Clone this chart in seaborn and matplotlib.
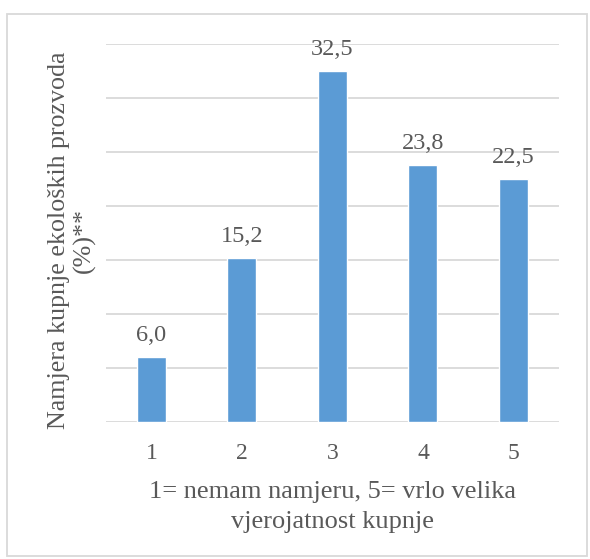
import matplotlib
matplotlib.use("Agg")
import matplotlib.pyplot as plt
import pandas as pd
import seaborn as sns
from matplotlib.patches import Rectangle

categories = ["1", "2", "3", "4", "5"]
values = [6.0, 15.2, 32.5, 23.8, 22.5]
value_labels = ["6,0", "15,2", "32,5", "23,8", "22,5"]
x_title = "1= nemam namjeru, 5= vrlo velika\nvjerojatnost kupnje"
y_title = "Namjera kupnje ekoloških prozvoda\n(%)**"

BAR_COLOR = "#5B9BD5"
TEXT_COLOR = "#595959"
GRID_COLOR = "#D9D9D9"

sns.set_theme(style="white")
plt.rcParams["font.family"] = ["Liberation Serif", "DejaVu Serif"]

df = pd.DataFrame({"cat": categories, "val": values})

fig = plt.figure(figsize=(5.9, 5.59), dpi=100)
ax = fig.add_axes([0.18, 0.245, 0.767, 0.676])

sns.barplot(data=df, x="cat", y="val", color=BAR_COLOR, width=0.32,
            saturation=1, ax=ax, zorder=3)

ax.set_ylim(0, 35)
ax.set_xlim(-0.5, 4.5)
ax.set_yticks(range(0, 36, 5))
ax.set_yticklabels([])
ax.yaxis.grid(True, color=GRID_COLOR, linewidth=1.3, zorder=0)
ax.tick_params(axis="y", length=0)
ax.tick_params(axis="x", length=0, labelsize=17, labelcolor=TEXT_COLOR, pad=15)
for s in ax.spines.values():
    s.set_visible(False)

for i, (v, lab) in enumerate(zip(values, value_labels)):
    ax.annotate(lab, (i, v), xytext=(0, 8), textcoords="offset points",
                ha="center", va="bottom", fontsize=17.5, color=TEXT_COLOR)

ax.set_xlabel(x_title, fontsize=19, color=TEXT_COLOR, linespacing=1.45)
ax.set_ylabel(y_title, fontsize=18.7, color=TEXT_COLOR, linespacing=1.2)
ax.xaxis.set_label_coords(0.5, -0.157)
ax.yaxis.set_label_coords(-0.022, 0.48)

fig.patches.append(Rectangle((7 / 590, 3 / 559), 580 / 590, 542 / 559,
                             transform=fig.transFigure, fill=False,
                             edgecolor="#D9D9D9", linewidth=1.3))

fig.savefig("out.png", dpi=100)
